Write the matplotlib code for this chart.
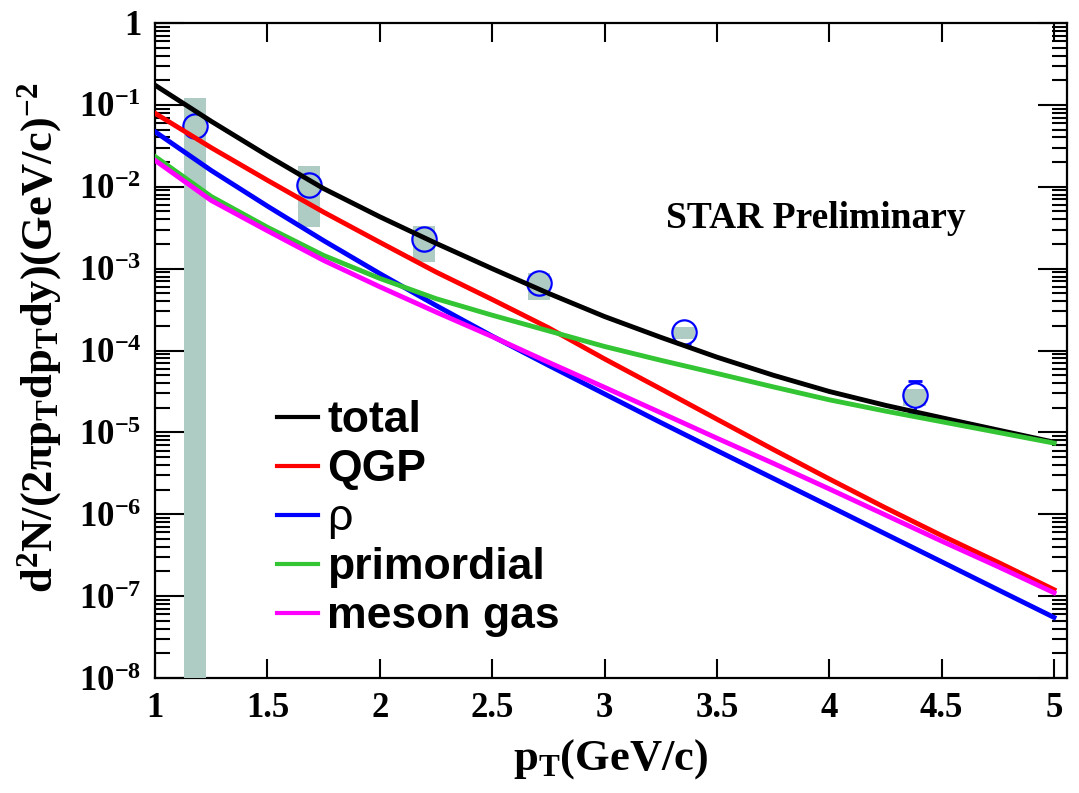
import matplotlib
matplotlib.use('Agg')
import matplotlib.pyplot as plt
from matplotlib.patches import Rectangle
from matplotlib.ticker import FixedLocator, LogLocator, NullFormatter

# 字体：Times 风格粗体（坐标轴），Helvetica 风格粗体（图例）
plt.rcParams['mathtext.fontset'] = 'custom'
plt.rcParams['mathtext.rm'] = 'Liberation Serif:bold'
plt.rcParams['mathtext.it'] = 'Liberation Serif:bold'
plt.rcParams['mathtext.bf'] = 'Liberation Serif:bold'

# ---- 理论曲线 ----
pt = [1.0, 1.25, 1.5, 1.75, 2.0, 2.25, 2.5, 2.75, 3.0,
      3.25, 3.5, 3.75, 4.0, 4.25, 4.5, 4.75, 5.0]
total = [1.74e-1, 6.3e-2, 2.4e-2, 9.5e-3, 4.3e-3, 2.04e-3, 1.0e-3, 5.0e-4, 2.6e-4,
         1.45e-4, 8.3e-5, 5.0e-5, 3.16e-5, 2.14e-5, 1.51e-5, 1.07e-5, 7.6e-6]
qgp = [7.9e-2, 3.0e-2, 1.2e-2, 4.9e-3, 2.1e-3, 9.1e-4, 4.2e-4, 1.9e-4, 7.9e-5,
       3.4e-5, 1.45e-5, 6.2e-6, 2.7e-6, 1.2e-6, 5.5e-7, 2.6e-7, 1.2e-7]
rho = [4.7e-2, 1.58e-2, 5.8e-3, 2.2e-3, 8.7e-4, 3.55e-4, 1.5e-4, 6.6e-5, 2.95e-5,
       1.32e-5, 6.0e-6, 2.75e-6, 1.26e-6, 5.75e-7, 2.63e-7, 1.2e-7, 5.5e-8]
primordial = [2.34e-2, 7.6e-3, 3.2e-3, 1.45e-3, 7.6e-4, 4.3e-4, 2.7e-4, 1.74e-4, 1.12e-4,
              7.6e-5, 5.25e-5, 3.6e-5, 2.5e-5, 1.82e-5, 1.35e-5, 1.0e-5, 7.4e-6]
meson_gas = [2.1e-2, 6.8e-3, 2.9e-3, 1.26e-3, 6.0e-4, 2.95e-4, 1.48e-4, 7.2e-5, 3.55e-5,
             1.74e-5, 8.5e-6, 4.2e-6, 2.04e-6, 9.8e-7, 4.7e-7, 2.3e-7, 1.1e-7]

# ---- STAR 数据点 ----
data_pt = [1.178, 1.685, 2.197, 2.709, 3.354, 4.38]
data_y = [0.055, 0.0104, 0.0023, 6.6e-4, 1.66e-4, 2.9e-5]
err_lo = [0, 0, 0, 0, 0.46e-4, 1.2e-5]
err_hi = [0, 0, 0, 0, 0.2e-4, 1.3e-5]
# 系统误差框 (下限, 上限)
sys_lo = [1e-9, 3.18e-3, 1.2e-3, 4.1e-4, 1.40e-4, 2.1e-5]
sys_hi = [0.12, 0.0178, 3.3e-3, 8.9e-4, 1.95e-4, 3.4e-5]
sys_width = 0.1

fig = plt.figure(figsize=(10.79, 7.93), dpi=100)
ax = fig.add_axes([0.1437, 0.145, 0.8452, 0.826])

box_color = '#afccc4'

# 误差棒（最底层）
ax.errorbar(data_pt, data_y, yerr=[err_lo, err_hi], fmt='none', ecolor='blue',
            elinewidth=2, capsize=5, capthick=2, zorder=1)
# 圆圈白色底
ax.plot(data_pt, data_y, 'o', ms=17.5, mfc='white', mec='none', zorder=2)
# 系统误差框
for x, lo, hi in zip(data_pt, sys_lo, sys_hi):
    ax.add_patch(Rectangle((x - sys_width / 2, lo), sys_width, hi - lo,
                           facecolor=box_color, edgecolor='none', zorder=3))
# 圆圈边框
ax.plot(data_pt, data_y, 'o', ms=17.5, mfc='none', mec='blue', mew=1.6, zorder=4)

# 理论曲线
lw = 3.5
ax.plot(pt, total, color='black', lw=lw, label='total', zorder=5)
ax.plot(pt, qgp, color='red', lw=lw, label='QGP', zorder=5)
ax.plot(pt, rho, color='blue', lw=lw, label='ρ', zorder=5)
ax.plot(pt, primordial, color='#33c533', lw=lw, label='primordial', zorder=5)
ax.plot(pt, meson_gas, color='magenta', lw=lw, label='meson gas', zorder=5)

ax.set_yscale('log')
ax.set_xlim(1, 5.058)
ax.set_ylim(1e-8, 1)

# 刻度
xticks = [1, 1.5, 2, 2.5, 3, 3.5, 4, 4.5, 5]
xlabels = ['1', '1.5', '2', '2.5', '3', '3.5', '4', '4.5', '5']
ax.xaxis.set_major_locator(FixedLocator(xticks))
ax.set_xticklabels(xlabels)
yticks = [1e-8, 1e-7, 1e-6, 1e-5, 1e-4, 1e-3, 1e-2, 1e-1, 1]
ylabels = ['$10^{-8}$', '$10^{-7}$', '$10^{-6}$', '$10^{-5}$', '$10^{-4}$',
           '$10^{-3}$', '$10^{-2}$', '$10^{-1}$', '1']
ax.yaxis.set_major_locator(FixedLocator(yticks))
ax.set_yticklabels(ylabels)
ax.yaxis.set_minor_locator(LogLocator(base=10, subs=range(2, 10), numticks=20))
ax.yaxis.set_minor_formatter(NullFormatter())

ax.tick_params(which='both', direction='in', top=True, right=True, width=1.5)
ax.tick_params(axis='x', which='major', length=14, pad=10)
ax.tick_params(axis='y', which='major', length=21, pad=10)
ax.tick_params(axis='y', which='minor', length=11)
for lab in ax.get_xticklabels() + ax.get_yticklabels():
    lab.set_fontfamily('Liberation Serif')
    lab.set_fontweight('bold')
    lab.set_fontsize(25)
for s in ax.spines.values():
    s.set_linewidth(1.6)

ax.set_xlabel(r'$\mathrm{p_T(GeV/c)}$', fontsize=32)
ax.xaxis.set_label_coords(0.499, -0.09)
ax.set_ylabel(r'$\mathrm{d^2N/(2\pi p_T dp_T dy)(GeV/c)^{-2}}$', fontsize=32)
ax.yaxis.set_label_coords(-0.100, 0.519)

ax.text(0.889, 0.687, 'STAR Preliminary', transform=ax.transAxes, ha='right', va='baseline',
        fontsize=27, fontfamily='Liberation Serif', fontweight='bold')

leg = ax.legend(loc='upper left', bbox_to_anchor=(0.134, 0.424), frameon=False,
                borderpad=0, borderaxespad=0, handlelength=0.92, handletextpad=0.2,
                labelspacing=0.18, prop={'family': 'Liberation Sans', 'weight': 'bold', 'size': 32})
for line in leg.get_lines():
    line.set_linewidth(3)
leg.get_texts()[2].set_fontweight('normal')

fig.savefig('out.png', dpi=100)
